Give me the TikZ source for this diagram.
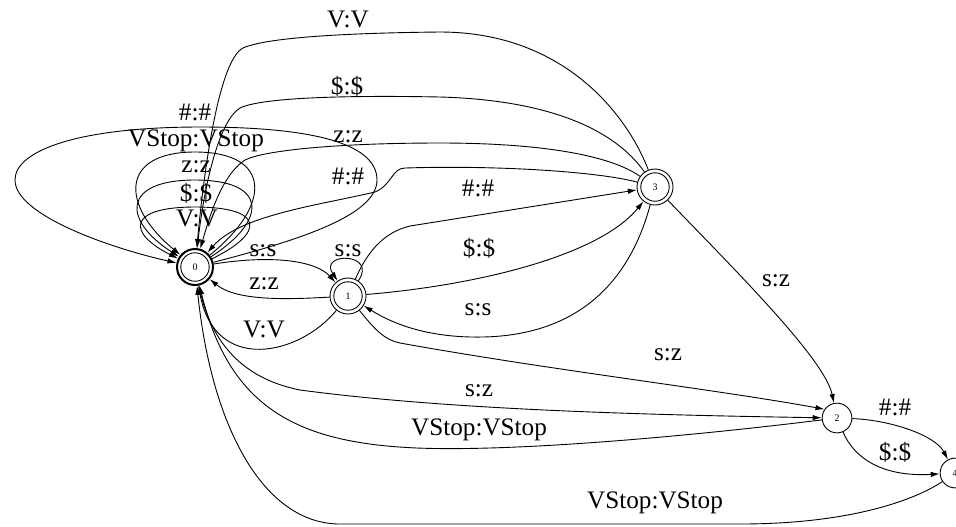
\documentclass[tikz,border=0pt]{standalone}
\usepackage{fontspec}
\setmainfont{Liberation Serif}
\usetikzlibrary{arrows.meta}

\begin{document}
\begin{tikzpicture}[x=0.5556pt,y=-0.5556pt,>={Latex[length=5pt,width=3pt]},line width=0.5pt,
 st/.style={circle,draw,inner sep=0pt,minimum size=16.5pt,font=\fontsize{5.5}{6}\selectfont},
 acc/.style={st,minimum size=20pt,path picture={\draw[line width=0.5pt] (path picture bounding box.center) circle (7.9pt);}},
 lab/.style={font=\fontsize{14}{16}\selectfont,inner sep=0pt}]
\useasboundingbox (0,0) rectangle (956,526);
\node[acc,line width=1.1pt] (n0) at (195,267) {0};
\node[acc] (n1) at (348,296) {1};
\node[acc] (n3) at (655,187) {3};
\node[st] (n2) at (837,418) {2};
\node[st] (n4) at (955,473) {4};
% loops on 0
\draw[->] (n0) .. controls (265,233) and (265,207) .. (195,207) .. controls (127,207) and (127,233) .. (n0);
\draw[->] (n0) .. controls (268,220) and (268,180) .. (195,180) .. controls (122,180) and (122,220) .. (n0);
\draw[->] (n0) .. controls (272,205) and (272,152) .. (195,152) .. controls (120,152) and (120,205) .. (n0);
\draw[->] (n0) .. controls (300,240) and (377,215) .. (377,180) .. controls (377,140) and (300,127) .. (200,127)
  .. controls (80,127) and (15,150) .. (15,180) .. controls (15,215) and (110,248) .. (n0);
\node[lab] (l00a) at (195,112) {\#:\#};
\node[lab] (l00b) at (196,141) {VStop:VStop};
\node[lab] (l00c) at (196,167) {z:z};
\node[lab] (l00d) at (196,193) {\$:\$};
\node[lab] (l00e) at (197,218) {V:V};
% 0 and 1
\draw[->] (n0) .. controls (270,255) and (315,260) .. (n1);
\node[lab] (l01) at (263,251) {s:s};
\draw[->] (n1) .. controls (280,300) and (235,300) .. (n0);
\node[lab] (l10a) at (264,284) {z:z};
\draw[->] (n1) .. controls (300,355) and (215,375) .. (n0);
\node[lab] (l10b) at (264,329) {V:V};
\draw[->] (n1) .. controls (378,252) and (318,252) .. (n1);
\node[lab] (l11) at (348,251) {s:s};
% 1 and 3
\draw[->] (n1) .. controls (368,250) and (385,232) .. (410,226) -- (n3);
\node[lab] (l13a) at (478,188) {\#:\#};
\draw[->] (n1) .. controls (480,285) and (600,255) .. (n3);
\node[lab] (l13b) at (479,248) {\$:\$};
\draw[->] (n3) .. controls (630,280) and (580,335) .. (483,337) .. controls (430,338) and (395,325) .. (n1);
\node[lab] (l31) at (478,310) {s:s};
% 3 to 0
\draw[->] (n3) .. controls (625,110) and (560,32) .. (440,32) .. controls (340,33) and (265,38) .. (243,48)
  .. controls (220,60) and (205,160) .. (n0);
\node[lab] (l30a) at (348,19) {V:V};
\draw[->] (n3) .. controls (615,130) and (550,100) .. (440,97) .. controls (340,95) and (260,98) .. (240,108)
  .. controls (220,120) and (205,180) .. (n0);
\node[lab] (l30b) at (347,86) {\$:\$};
\draw[->] (n3) .. controls (610,155) and (540,143) .. (440,143) .. controls (340,143) and (265,150) .. (245,160)
  .. controls (222,175) and (210,215) .. (n0);
\node[lab] (l30c) at (348,137) {z:z};
\draw[->] (n3) .. controls (600,172) and (500,165) .. (405,168) .. controls (392,168) and (392,185) .. (375,192)
  .. controls (320,205) and (240,215) .. (n0);
\node[lab] (l30d) at (348,176) {\#:\#};
% to 2
\draw[->] (n3) .. controls (740,275) and (825,360) .. (n2);
\node[lab] (l32) at (776,281) {s:z};
\draw[->] (n1) .. controls (375,330) and (385,340) .. (400,343) .. controls (550,370) and (720,390) .. (n2.145);
\node[lab] (l12) at (668,355) {s:z};
\draw[->] (n0) .. controls (210,340) and (240,378) .. (300,390) .. controls (450,410) and (650,415) .. (n2);
\node[lab] (l02) at (479,391) {s:z};
\draw[->] (n2) .. controls (700,435) and (520,452) .. (417,448) .. controls (300,443) and (230,410) .. (n0);
\node[lab] (l20) at (479,430) {VStop:VStop};
% 2 and 4
\draw[->] (n2) .. controls (890,420) and (935,435) .. (n4);
\node[lab] (l24a) at (895,407) {\#:\#};
\draw[->] (n2) .. controls (855,460) and (885,477) .. (n4);
\node[lab] (l24b) at (895,452) {\$:\$};
\draw[->] (n4) .. controls (915,500) and (850,524) .. (740,524) -- (340,524) .. controls (265,524) and (212,430) .. (n0);
\node[lab] (l40) at (655,503) {VStop:VStop};
\end{tikzpicture}
\end{document}
